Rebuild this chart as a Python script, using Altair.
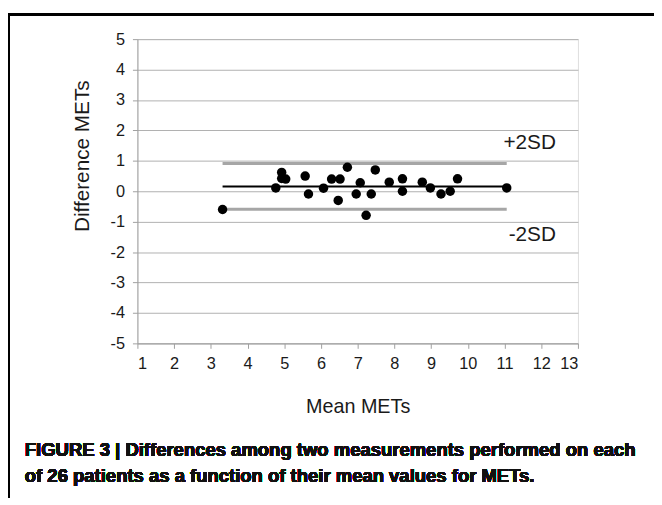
import altair as alt
import pandas as pd

# Bland-Altman data: mean METs (x) vs difference METs (y), 26 patients
mean_mets = [3.32, 4.77, 4.93, 4.93, 5.04, 5.57, 5.66, 6.07, 6.29, 6.47, 6.52, 6.72, 6.96,
             7.07, 7.23, 7.37, 7.48, 7.86, 8.22, 8.22, 8.76, 8.98, 9.27, 9.52, 9.72, 11.06]
diff_mets = [-0.60, 0.11, 0.62, 0.42, 0.40, 0.50, -0.09, 0.10, 0.40, -0.30, 0.40, 0.79, -0.09,
             0.28, -0.79, -0.09, 0.70, 0.30, 0.41, 0.00, 0.30, 0.11, -0.09, 0.00, 0.41, 0.11]

line_names = ["mean", "+2SD", "-2SD"]
line_values = [0.16, 0.91, -0.59]
label_texts = ["+2SD", "-2SD"]
label_x = [12.4, 12.4]
label_y = [1.6, -1.43]

x_ticks = list(range(1, 14))
y_ticks = list(range(-5, 6))

pts = pd.DataFrame({"m": mean_mets, "d": diff_mets})
lines = pd.DataFrame({
    "name": line_names,
    "v": line_values,
    "x1": [min(mean_mets)] * 3,
    "x2": [max(mean_mets)] * 3,
})
labels = pd.DataFrame({"t": label_texts, "x": label_x, "y": label_y})

FONT = "Liberation Sans"
xscale = alt.Scale(domain=[1, 13], nice=False, zero=False)
yscale = alt.Scale(domain=[-5, 5], nice=False, zero=False)

xaxis = alt.Axis(
    values=x_ticks, tickCount=13, title="Mean METs", grid=False, labelOverlap=False,
    labelExpr="'' + datum.value",
    domainColor="#a0a0a0", tickColor="#a0a0a0", tickSize=5,
    labelFont=FONT, labelFontSize=16.5, labelColor="#1a1a1a", labelPadding=7,
    titleFont=FONT, titleFontSize=20, titleFontWeight="normal", titleColor="#1a1a1a",
    titlePadding=25)
yaxis = alt.Axis(
    values=y_ticks, tickCount=11, title="Difference METs", grid=True, labelOverlap=False,
    labelExpr="'' + datum.value",
    gridColor="#b0b0b0", gridWidth=1,
    domainColor="#a0a0a0", tickColor="#a0a0a0", tickSize=5,
    labelFont=FONT, labelFontSize=16.5, labelColor="#1a1a1a", labelPadding=8,
    titleFont=FONT, titleFontSize=21, titleFontWeight="normal", titleColor="#1a1a1a",
    titleX=-56, titleY=118, titleAngle=270, titleAlign="center", titleBaseline="middle")

points = alt.Chart(pts).mark_circle(size=92, color="black", opacity=1).encode(
    x=alt.X("m:Q", scale=xscale, axis=xaxis),
    y=alt.Y("d:Q", scale=yscale, axis=yaxis),
)

sd_lines = alt.Chart(lines).transform_filter(alt.datum.name != "mean").mark_rule(
    color="#a6a6a6", strokeWidth=3).encode(
    x=alt.X("x1:Q", scale=xscale, axis=xaxis), x2="x2:Q",
    y=alt.Y("v:Q", scale=yscale, axis=yaxis))

mean_line = alt.Chart(lines).transform_filter(alt.datum.name == "mean").mark_rule(
    color="black", strokeWidth=2).encode(
    x=alt.X("x1:Q", scale=xscale, axis=xaxis), x2="x2:Q",
    y=alt.Y("v:Q", scale=yscale, axis=yaxis))

sd_text = alt.Chart(labels).mark_text(
    font=FONT, fontSize=21, color="#1a1a1a", align="right", baseline="middle").encode(
    x=alt.X("x:Q", scale=xscale, axis=xaxis), y=alt.Y("y:Q", scale=yscale, axis=yaxis),
    text="t:N")

# figure frame (left and top borders)
frame_left = alt.Chart(pts).mark_rule(color="black", strokeWidth=2).encode(
    x=alt.value(-130), y=alt.value(-25), y2=alt.value(480))
frame_top = alt.Chart(pts).mark_rule(color="black", strokeWidth=2).encode(
    x=alt.value(-131), x2=alt.value(530), y=alt.value(-25))

cap1 = alt.Chart(pts).mark_text(
    text="FIGURE 3 | Differences among two measurements performed on each",
    font=FONT, fontWeight="bold", fontSize=18.7, color="#111",
    align="left", baseline="middle").encode(x=alt.value(-114), y=alt.value(416))
cap2 = alt.Chart(pts).mark_text(
    text="of 26 patients as a function of their mean values for METs.",
    font=FONT, fontWeight="bold", fontSize=18.7, color="#111",
    align="left", baseline="middle").encode(x=alt.value(-114), y=alt.value(442))

chart = alt.layer(
    sd_lines, mean_line, points, sd_text, frame_left, frame_top, cap1, cap2
).properties(
    width=446, height=308,
    autosize=alt.AutoSizeParams(type="none"),
    padding={"left": 131, "top": 28.5, "right": 77, "bottom": 153},
).configure_view(stroke=None).configure(background="white")

chart.save("out.html", embed_options={"renderer": "svg", "actions": False})
